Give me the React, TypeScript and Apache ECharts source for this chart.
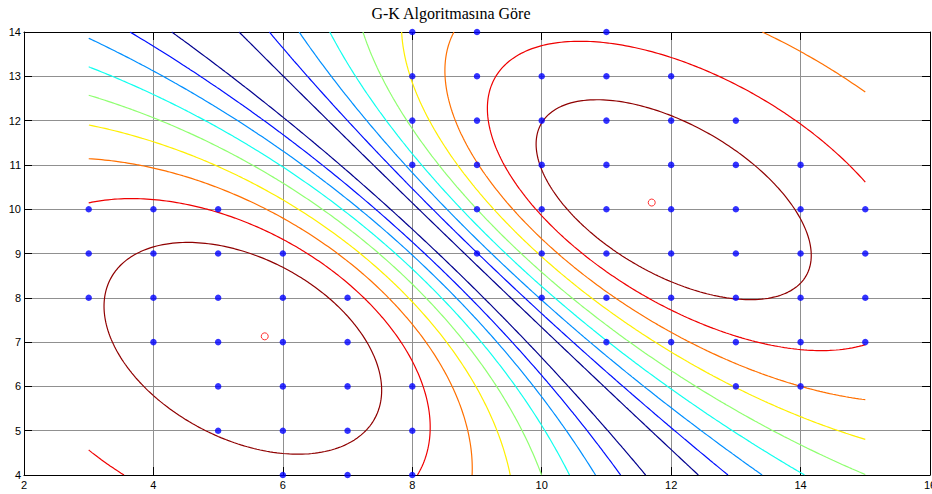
import React, { useEffect, useRef } from "react";
import * as echarts from "echarts";

const titleText = "G-K Algoritmasına Göre";

// data points
const pointX = [
  8, 9, 11,
  8, 9, 10, 11, 12,
  8, 9, 10, 11, 12, 13,
  8, 9, 10, 11, 12, 13, 14,
  3, 4, 5, 9, 10, 11, 12, 13, 14, 15,
  3, 4, 5, 6, 9, 10, 11, 12, 13, 14, 15,
  3, 4, 5, 6, 7, 10, 11, 12, 13, 14, 15,
  4, 5, 6, 7, 11, 12, 13, 14, 15,
  5, 6, 7, 8, 13, 14,
  5, 6, 7, 8,
  6, 7, 8,
];
const pointY = [
  14, 14, 14,
  13, 13, 13, 13, 13,
  12, 12, 12, 12, 12, 12,
  11, 11, 11, 11, 11, 11, 11,
  10, 10, 10, 10, 10, 10, 10, 10, 10, 10,
  9, 9, 9, 9, 9, 9, 9, 9, 9, 9, 9,
  8, 8, 8, 8, 8, 8, 8, 8, 8, 8, 8,
  7, 7, 7, 7, 7, 7, 7, 7, 7,
  6, 6, 6, 6, 6, 6,
  5, 5, 5, 5,
  4, 4, 4,
];

// cluster centres (red circles)
const centerX = [5.72, 11.7];
const centerY = [7.13, 10.15];

// contour levels of the maximum G-K membership
const contourLevels = [0.55, 0.6, 0.65, 0.7, 0.75, 0.8, 0.85, 0.9, 0.95];

const xMin = 2, xMax = 16, xStep = 2;
const yMin = 4, yMax = 14, yStep = 1;

// jet(64) colours for the 9 levels
const levelColors = ["#00008F", "#0010FF", "#008FFF", "#10FFEF", "#8FFF70", "#FFEF00", "#FF7000", "#EF0000", "#8F0000"];

type Mat = number[][];

// Gustafson-Kessel fuzzy clustering (m = 2) on the data points
function runGK(px: number[], py: number[], cx0: number[], cy0: number[]) {
  const N = px.length, c = cx0.length, m = 2;
  let V: number[][] = cx0.map((x, i) => [x, cy0[i]]);
  let A: Mat[] = V.map(() => [[1, 0], [0, 1]]);
  let U: number[][] = [];
  const dist = (i: number, x: number, y: number) => {
    const dx = x - V[i][0], dy = y - V[i][1];
    const a = A[i];
    return a[0][0] * dx * dx + 2 * a[0][1] * dx * dy + a[1][1] * dy * dy + 1e-10;
  };
  const computeU = () => {
    U = V.map(() => new Array(N).fill(0));
    for (let k = 0; k < N; k++) {
      const inv = V.map((_, i) => Math.pow(dist(i, px[k], py[k]), -1 / (m - 1)));
      const s = inv.reduce((p, q) => p + q, 0);
      for (let i = 0; i < c; i++) U[i][k] = inv[i] / s;
    }
  };
  computeU();
  for (let it = 0; it < 300; it++) {
    V = U.map((row) => {
      let sw = 0, sx = 0, sy = 0;
      row.forEach((u, k) => { const w = Math.pow(u, m); sw += w; sx += w * px[k]; sy += w * py[k]; });
      return [sx / sw, sy / sw];
    });
    A = U.map((row, i) => {
      let sw = 0, a = 0, b = 0, d = 0;
      row.forEach((u, k) => {
        const w = Math.pow(u, m);
        const dx = px[k] - V[i][0], dy = py[k] - V[i][1];
        sw += w; a += w * dx * dx; b += w * dx * dy; d += w * dy * dy;
      });
      a /= sw; b /= sw; d /= sw;
      const det = a * d - b * b;
      const s = Math.sqrt(det);
      return [[(s * d) / det, (-s * b) / det], [(-s * b) / det, (s * a) / det]];
    });
    computeU();
  }
  const maxMembership = (x: number, y: number) => {
    const inv = V.map((_, i) => 1 / dist(i, x, y));
    const s = inv.reduce((p, q) => p + q, 0);
    return Math.max(...inv.map((v) => v / s));
  };
  return { V, maxMembership };
}

// marching squares, joined into polylines
function contourChains(xs: number[], ys: number[], Z: number[][], L: number): number[][][] {
  const nx = xs.length, ny = ys.length;
  const pts = new Map<string, number[]>();
  const adj = new Map<string, string[]>();
  const link = (a: string, b: string) => {
    if (!adj.has(a)) adj.set(a, []);
    if (!adj.has(b)) adj.set(b, []);
    adj.get(a)!.push(b);
    adj.get(b)!.push(a);
  };
  for (let j = 0; j < ny - 1; j++) {
    for (let i = 0; i < nx - 1; i++) {
      const z00 = Z[j][i], z10 = Z[j][i + 1], z11 = Z[j + 1][i + 1], z01 = Z[j + 1][i];
      const e: (string | null)[] = [null, null, null, null];
      if ((z00 >= L) !== (z10 >= L)) {
        const t = (L - z00) / (z10 - z00); const k = `h${i}_${j}`;
        if (!pts.has(k)) pts.set(k, [xs[i] + t * (xs[i + 1] - xs[i]), ys[j]]);
        e[0] = k;
      }
      if ((z10 >= L) !== (z11 >= L)) {
        const t = (L - z10) / (z11 - z10); const k = `v${i + 1}_${j}`;
        if (!pts.has(k)) pts.set(k, [xs[i + 1], ys[j] + t * (ys[j + 1] - ys[j])]);
        e[1] = k;
      }
      if ((z01 >= L) !== (z11 >= L)) {
        const t = (L - z01) / (z11 - z01); const k = `h${i}_${j + 1}`;
        if (!pts.has(k)) pts.set(k, [xs[i] + t * (xs[i + 1] - xs[i]), ys[j + 1]]);
        e[2] = k;
      }
      if ((z00 >= L) !== (z01 >= L)) {
        const t = (L - z00) / (z01 - z00); const k = `v${i}_${j}`;
        if (!pts.has(k)) pts.set(k, [xs[i], ys[j] + t * (ys[j + 1] - ys[j])]);
        e[3] = k;
      }
      const present = e.filter((k) => k !== null) as string[];
      if (present.length === 2) link(present[0], present[1]);
      else if (present.length === 4) {
        const center = (z00 + z10 + z11 + z01) / 4;
        if ((center >= L) === (z00 >= L)) { link(e[0]!, e[1]!); link(e[2]!, e[3]!); }
        else { link(e[0]!, e[3]!); link(e[1]!, e[2]!); }
      }
    }
  }
  const visited = new Set<string>();
  const chains: number[][][] = [];
  const walk = (start: string) => {
    const chain = [start];
    visited.add(start);
    let cur = start;
    while (true) {
      const nb = (adj.get(cur) || []).filter((n) => !visited.has(n));
      if (!nb.length) {
        if (chain.length > 2 && (adj.get(cur) || []).includes(start)) chain.push(start);
        break;
      }
      cur = nb[0];
      visited.add(cur);
      chain.push(cur);
    }
    chains.push(chain.map((k) => pts.get(k)!));
  };
  adj.forEach((nb, k) => { if (nb.length === 1 && !visited.has(k)) walk(k); });
  adj.forEach((_, k) => { if (!visited.has(k)) walk(k); });
  return chains;
}

export default function App() {
  const ref = useRef<HTMLDivElement>(null);
  useEffect(() => {
    if (!ref.current) return;
    const chart = echarts.init(ref.current, undefined, { renderer: "svg" });

    const gk = runGK(pointX, pointY, centerX, centerY);
    const gx0 = Math.min(...pointX), gx1 = Math.max(...pointX);
    const gy0 = Math.min(...pointY), gy1 = Math.max(...pointY);
    const h = 0.05;
    const xs: number[] = [], ys: number[] = [];
    for (let i = 0; i <= Math.round((gx1 - gx0) / h); i++) xs.push(gx0 + i * h);
    for (let j = 0; j <= Math.round((gy1 - gy0) / h); j++) ys.push(gy0 + j * h);
    const Z = ys.map((y) => xs.map((x) => gk.maxMembership(x, y)));

    const contourSeries: any[] = [];
    contourLevels.forEach((L, li) => {
      contourChains(xs, ys, Z, L).forEach((chain) => {
        contourSeries.push({
          type: "line",
          data: chain,
          showSymbol: false,
          symbol: "none",
          silent: true,
          z: 2,
          lineStyle: { color: levelColors[li], width: 1.2 },
        });
      });
    });

    const axisLine = { show: true, onZero: false, lineStyle: { color: "#000", width: 1 } };
    const axisTick = { show: true, inside: true, length: 8, lineStyle: { color: "#000", width: 1 } };
    const labelStyle = { color: "#000", fontSize: 11, fontFamily: "Liberation Sans, Arial, sans-serif" };

    chart.setOption({
      animation: false,
      grid: { left: 24, right: 2, top: 32, bottom: 19, containLabel: false, outerBoundsMode: "none" },
      graphic: [
        {
          type: "text",
          x: 451,
          y: 13,
          style: {
            text: titleText,
            fontSize: 16,
            fontFamily: "Liberation Serif, Times New Roman, serif",
            fill: "#000",
            align: "center",
            verticalAlign: "middle",
          },
        },
      ],
      xAxis: [
        {
          type: "value", min: xMin, max: xMax, interval: xStep, position: "bottom",
          axisLine, axisTick,
          axisLabel: { ...labelStyle, margin: 4, showMaxLabel: true, showMinLabel: true, hideOverlap: false },
          splitLine: { show: true, lineStyle: { color: "#909090", width: 1 } },
        },
        {
          type: "value", min: xMin, max: xMax, interval: xStep, position: "top",
          axisLine, axisTick, axisLabel: { show: false }, splitLine: { show: false },
        },
      ],
      yAxis: [
        {
          type: "value", min: yMin, max: yMax, interval: yStep, position: "left",
          axisLine, axisTick,
          axisLabel: { ...labelStyle, margin: 3 },
          splitLine: { show: true, lineStyle: { color: "#909090", width: 1 } },
        },
        {
          type: "value", min: yMin, max: yMax, interval: yStep, position: "right",
          axisLine, axisTick, axisLabel: { show: false }, splitLine: { show: false },
        },
      ],
      series: [
        ...contourSeries,
        {
          type: "scatter",
          data: pointX.map((x, i) => [x, pointY[i]]),
          symbol: "circle",
          symbolSize: 6.5,
          silent: true,
          z: 5,
          itemStyle: { color: "#0000FF" },
        },
        {
          type: "scatter",
          data: centerX.map((x, i) => [x, centerY[i]]),
          symbol: "circle",
          symbolSize: 7,
          silent: true,
          z: 6,
          itemStyle: { color: "rgba(0,0,0,0)", borderColor: "#FF0000", borderWidth: 1 },
        },
      ],
    });
    return () => chart.dispose();
  }, []);
  return (
    <div
      ref={ref}
      style={{ position: "fixed", left: 0, top: 0, width: 932, height: 494, background: "#fff" }}
    />
  );
}
